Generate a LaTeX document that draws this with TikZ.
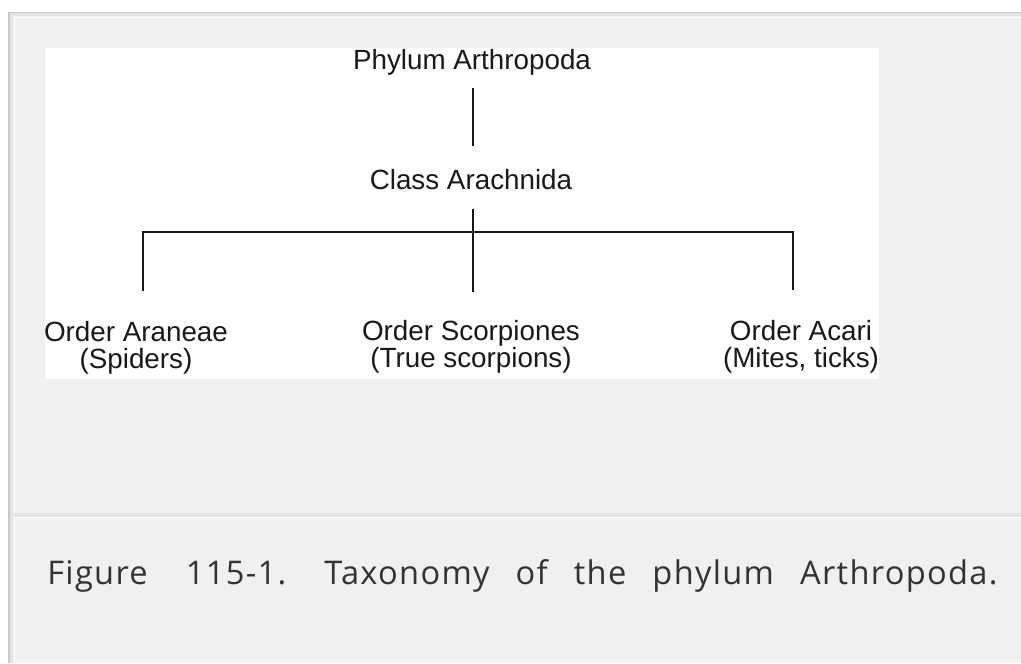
\documentclass[tikz,border=0pt]{standalone}
\usepackage{fontspec}
\setmainfont{Liberation Sans}
\newfontfamily\capfont[LetterSpace=4]{Open Sans}
\definecolor{pagegray}{HTML}{F0F0F0}
\definecolor{rimgray}{HTML}{C8C8C8}
\definecolor{bandgray}{HTML}{E4E4E4}
\definecolor{captext}{HTML}{333333}
\tikzset{
  taxon/.style={inner sep=0pt, text=black!90, font=\fontsize{13.9}{13.5}\selectfont, align=center},
  branch/.style={line width=1pt, black!90},
}
\frenchspacing
\begin{document}
\begin{tikzpicture}[x=0.5pt,y=-0.5pt]
\useasboundingbox (0,0) rectangle (1021,663);
% page frame
\fill[white] (0,0) rectangle (1021,663);
\fill[pagegray] (8,12) rectangle (1021,663);
\draw[rimgray,line width=1pt] (9,663) -- (9,13) -- (1021,13);
\draw[bandgray,line width=1.5pt] (11.5,663) -- (11.5,15) -- (1021,15);
\draw[white,line width=0.5pt] (14.5,663) -- (14.5,17.5) -- (1021,17.5);
% rule above the caption
\fill[bandgray] (14,513) rectangle (1021,516.5);
\draw[white,line width=0.5pt] (15,517.5) -- (1021,517.5);
% figure panel
\fill[white] (45,48) rectangle (879,379);

% taxa
\node[taxon,anchor=base] (phylum) at (472,70) {Phylum Arthropoda};
\node[taxon,anchor=base] (class) at (471,190) {Class Arachnida};
\node[taxon,anchor=north] (araneae) at (136,321) {Order Araneae\\(Spiders)};
\node[taxon,anchor=north] (scorp) at (471,320) {Order Scorpiones\\(True scorpions)};
\node[taxon,anchor=north] (acari) at (801,320) {Order Acari\\(Mites, ticks)};

% branches
\coordinate (forkL) at (143,232);
\coordinate (forkM) at (473,232);
\coordinate (forkR) at (793,232);
\draw[branch, shorten <=6pt, shorten >=11.5pt] (phylum.south -| forkM) -- (class.north -| forkM);
\draw[branch, shorten <=9pt, shorten >=14pt] (class.south -| forkM) -- (scorp.north -| forkM);
\draw[branch, shorten <=15pt, shorten >=15pt] (forkL |- araneae.north) -- (forkL) -- (forkR) -- (forkR |- acari.north);

% caption
\node[anchor=base west, inner sep=0pt, text=captext, font=\capfont\fontsize{16.3}{18}\selectfont] (caption) at (47,584)
  {\makebox[475pt][s]{Figure\hspace{6pt} 115-1.\hspace{6pt} Taxonomy of the phylum Arthropoda.}};
\end{tikzpicture}
\end{document}
